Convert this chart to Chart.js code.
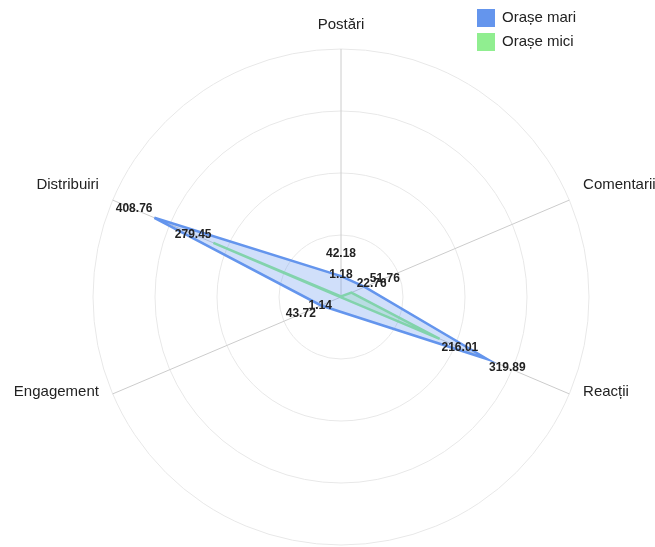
<!DOCTYPE html>
<html>
<head>
<meta charset="utf-8">
<script src="https://cdn.jsdelivr.net/npm/chart.js@4.4.1/dist/chart.umd.min.js"></script>
<style>
  html, body { margin: 0; padding: 0; background: #fff; overflow: hidden; }
  /* the plot in the original runs a little past the right and bottom edges */
  #wrap { width: 669px; height: 562px; }
</style>
</head>
<body>
<div id="wrap"><canvas id="radarChart"></canvas></div>
<script>
const metrics = ["Postări", "Comentarii", "Reacții", "Engagement", "Distribuiri"];
const seriesNames = ["Orașe mari", "Orașe mici"];
const bigCities = [42.18, 51.76, 319.89, 43.72, 408.76];
const smallCities = [1.18, 22.76, 216.01, 1.14, 279.45];

const FONT = "'Liberation Sans', Arial, sans-serif";

// axes in the original are not evenly spread round the circle,
// so the radial scale gets its own angle per axis (degrees from top, clockwise)
const axisAngles = [0, 67, 113, 247, 293];

class SkewedRadialScale extends Chart.RadialLinearScale {
    getIndexAngle(index) {
        return (axisAngles[index] || 0) * Math.PI / 180;
    }
    fit() {
        super.fit();
        // lower labels sit centred on their spot, not hanging below it
        (this._pointLabelItems || []).forEach(item => {
            if (item.y > this.yCenter) item.y -= 17;
        });
    }
}
SkewedRadialScale.id = "skewedRadial";
SkewedRadialScale.defaults = Chart.RadialLinearScale.defaults;
Chart.register(SkewedRadialScale);

// numbers next to each vertex
const valueLabels = {
    id: "valueLabels",
    afterDatasetsDraw(chart) {
        const ctx = chart.ctx;
        const scale = chart.scales.r;
        ctx.save();
        ctx.font = "bold 12px " + FONT;
        ctx.fillStyle = "#222";
        ctx.textAlign = "center";
        ctx.textBaseline = "middle";
        chart.data.datasets.forEach((ds, di) => {
            const meta = chart.getDatasetMeta(di);
            meta.data.forEach((pt, i) => {
                const a = scale.getIndexAngle(i) - Math.PI / 2;
                const x = pt.x + Math.cos(a) * 22;
                const y = pt.y + Math.sin(a) * 22;
                ctx.fillText(ds.data[i].toFixed(2), x, y);
            });
        });
        ctx.restore();
    }
};

// legend in the top right corner, drawn over the plot
const cornerLegend = {
    id: "cornerLegend",
    afterDraw(chart) {
        const ctx = chart.ctx;
        ctx.save();
        ctx.font = "15px " + FONT;
        ctx.textBaseline = "middle";
        chart.data.datasets.forEach((ds, i) => {
            const top = 9 + i * 24;
            ctx.fillStyle = ds.legendColor;
            ctx.fillRect(477, top, 18, 18);
            ctx.fillStyle = "#222";
            ctx.fillText(ds.label, 502, top + 9);
        });
        ctx.restore();
    }
};

const radarChart = new Chart(document.getElementById("radarChart"), {
    type: "radar",
    data: {
        labels: metrics,
        datasets: [{
            label: seriesNames[0],
            data: bigCities,
            borderColor: "#6495ED",
            backgroundColor: "rgba(100, 149, 237, 0.3)",
            legendColor: "#6495ED",
            borderWidth: 2.5,
            pointRadius: 0
        }, {
            label: seriesNames[1],
            data: smallCities,
            borderColor: "#90EE90",
            backgroundColor: "rgba(144, 238, 144, 0.3)",
            legendColor: "#90EE90",
            borderWidth: 2.5,
            pointRadius: 0
        }]
    },
    options: {
        responsive: true,
        maintainAspectRatio: false,
        animation: false,
        elements: { line: { tension: 0 } },
        plugins: {
            legend: { display: false },
            tooltip: { enabled: false }
        },
        scales: {
            r: {
                type: "skewedRadial",
                min: 0,
                max: 500,
                ticks: { display: false, stepSize: 125 },
                grid: { circular: true, color: "#e8e8e8" },
                angleLines: { color: "#cccccc" },
                pointLabels: {
                    color: "#222",
                    padding: 15,
                    font: { size: 15, family: FONT }
                }
            }
        }
    },
    plugins: [valueLabels, cornerLegend]
});
</script>
</body>
</html>
